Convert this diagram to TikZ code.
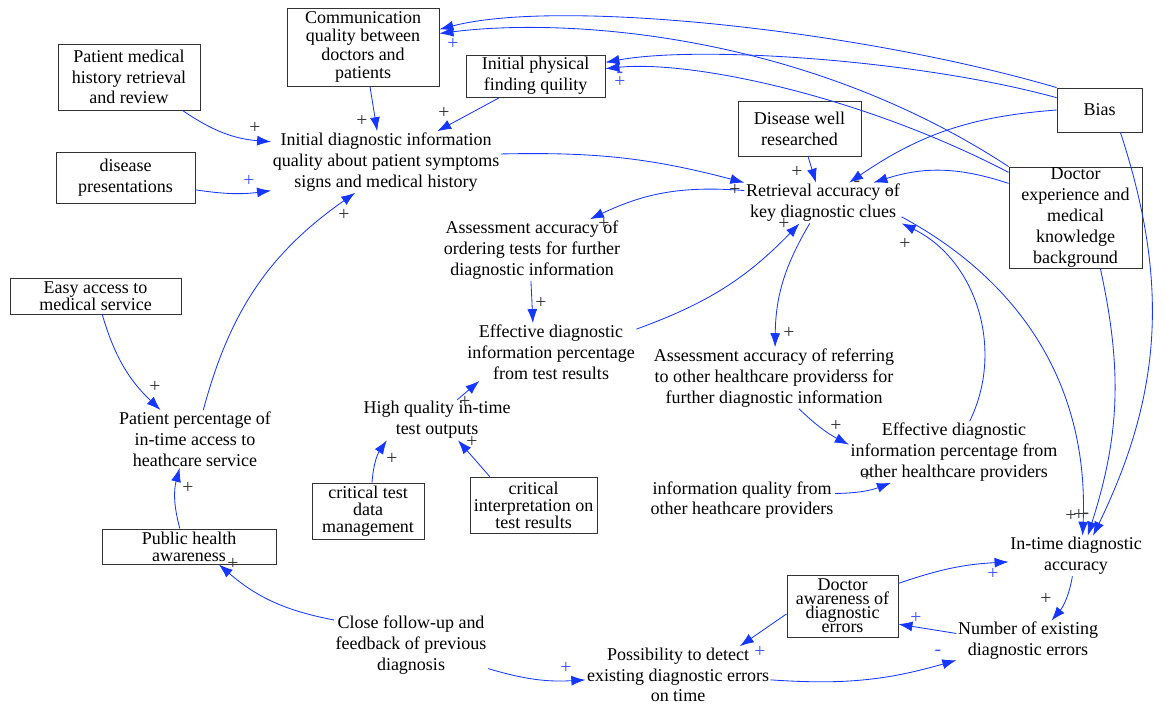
\documentclass[tikz,border=0pt]{standalone}
\usepackage{fontspec}
\setmainfont{Liberation Serif}
\usetikzlibrary{arrows.meta}

\definecolor{linkblue}{RGB}{22,55,255}
\definecolor{signblue}{RGB}{60,80,255}
\definecolor{signgray}{RGB}{50,50,50}
\newcommand{\varfont}{\fontsize{12.8}{14.8}\selectfont}
\newcommand{\boxfont}{\fontsize{12.8}{12.9}\selectfont}
\newcommand{\tightfont}{\fontsize{12.8}{12.1}\selectfont}
\newcommand{\squeezefont}{\fontsize{12.8}{10}\selectfont}
\newcommand{\signfont}{\fontsize{14}{14}\selectfont}

\begin{document}
\begin{tikzpicture}[>={Latex[length=3.5mm,width=2.5mm]}, x=0.025cm, y=0.025cm,
    box/.style={draw=black!80, line width=0.6pt, align=center,
                inner sep=0pt, font=\varfont},
    var/.style={align=center, inner sep=1pt, font=\varfont},
    link/.style={->, draw=linkblue, line width=0.6pt},
    sgn/.style={font=\signfont, text=signgray, inner sep=0pt},
    sgnb/.style={sgn, text=signblue}]
  \useasboundingbox (0,0) rectangle (1165,-704);

  % Boxed variables
  \node[box, font=\boxfont, minimum width=3.8cm, minimum height=1.95cm] (comm) at (363,-47)
    {Communication\\quality between\\doctors and\\patients};
  \node[box, minimum width=3.55cm, minimum height=1.65cm] (history) at (129,-77)
    {Patient medical\\history retrieval\\and review};
  \node[box, minimum width=3.475cm, minimum height=1.275cm] (present) at (125.5,-177.5)
    {disease\\presentations};
  \node[box, minimum width=3.475cm, minimum height=1.05cm] (physical) at (535.5,-76)
    {Initial physical\\finding quility};
  \node[box, minimum width=3.075cm, minimum height=1.375cm] (wellres) at (799.5,-128.5)
    {Disease well\\researched};
  \node[box, minimum width=2.125cm, minimum height=1.1cm] (bias) at (1099.5,-110)
    {Bias};
  \node[box, minimum width=3.325cm, minimum height=2.525cm] (docexp) at (1075.5,-217.5)
    {Doctor\\experience and\\medical\\knowledge\\background};
  \node[box, font=\tightfont, minimum width=4.275cm, minimum height=0.9cm] (access) at (95.5,-296)
    {Easy access to\\medical service};
  \node[box, font=\tightfont, minimum width=2.8cm, minimum height=1.4cm] (testdata) at (368,-511)
    {critical test\\data\\management};
  \node[box, font=\tightfont, minimum width=3.175cm, minimum height=1.4cm] (interp) at (533.5,-505)
    {critical\\interpretation on\\test results};
  \node[box, font=\tightfont, minimum width=4.35cm, minimum height=0.875cm] (awareness) at (189,-546.5)
    {Public health\\awareness};
  \node[box, font=\squeezefont, minimum width=2.775cm, minimum height=1.55cm] (docaware) at (842.5,-606)
    {Doctor\\awareness of\\diagnostic\\errors};

  % Plain variables
  \node[var] (initinfo) at (386,-162)
    {Initial diagnostic information\\quality about patient symptoms\\signs and medical history};
  \node[var] (retrieval) at (823,-203)
    {Retrieval accuracy of\\key diagnostic clues};
  \node[var] (ordertest) at (532,-250)
    {Assessment accuracy of\\ordering tests for further\\diagnostic information};
  \node[var] (testinfo) at (551,-352)
    {Effective diagnostic\\information percentage\\from test results};
  \node[var] (testout) at (437,-420)
    {High quality in-time\\test outputs};
  \node[var] (pataccess) at (195,-439)
    {Patient percentage of\\in-time access to\\heathcare service};
  \node[var] (referral) at (774,-378)
    {Assessment accuracy of referring\\to other healthcare providerss for\\further diagnostic information};
  \node[var] (refinfo) at (954,-452)
    {Effective diagnostic\\information percentage from\\other healthcare providers};
  \node[var] (otherinfo) at (742,-500)
    {information quality from\\other heathcare providers};
  \node[var] (accuracy) at (1076,-556)
    {In-time diagnostic\\accuracy};
  \node[var] (errors) at (1028,-641)
    {Number of existing\\diagnostic errors};
  \node[var] (detect) at (678,-675)
    {Possibility to detect\\existing diagnostic errors\\on time};
  \node[var] (followup) at (411,-645)
    {Close follow-up and\\feedback of previous\\diagnosis};

  % Links into initial information quality
  \draw[link] (history.-32) to[bend right=15] (initinfo.170);
  \draw[link] (present.-10) to[bend right=8] (initinfo.194);
  \draw[link] (comm.-80) -- (initinfo.106);
  \draw[link] (physical.-149) -- (initinfo.31);
  \draw[link] (pataccess.74) to[bend left=20] (initinfo.-135);

  % Long links from bias and experience
  \draw[link] (bias.north west) .. controls (860,-30) and (560,2) .. (comm.13);
  \draw[link] (docexp.north west) .. controls (800,-30) and (560,-18) .. (comm.10);
  \draw[link] (bias.164) .. controls (920,-60) and (700,-45) .. (physical.11);
  \draw[link] (docexp.146) .. controls (860,-95) and (690,-60) .. (physical.6);

  % Retrieval accuracy
  \draw[link] (initinfo.4) to[bend left=8] (retrieval.north west);
  \draw[link] (wellres.-73) -- (retrieval.109);
  \draw[link] (bias.west) to[bend right=15] (retrieval.38);
  \draw[link] (docexp.153) to[bend right=18] (retrieval.22);
  \draw[link] (retrieval.171) to[bend right=15] (ordertest.28);
  \draw[link] (ordertest.-92) -- (testinfo.122);
  \draw[link] (testinfo.15) to[bend right=13] (retrieval.-139);
  \draw[link] (retrieval.-123) to[bend right=15] (referral.88);
  \draw[link] (referral.-51) to[bend right=8] (refinfo.176);
  \draw[link] (refinfo.63) to[bend right=45] (retrieval.south east);
  \draw[link] (otherinfo.4) to[bend right=10] (refinfo.-154);

  % Into in-time accuracy
  \draw[link] (retrieval.-10) to[bend left=32] (accuracy.72);
  \draw[link] (docexp.-64) to[bend left=15] (accuracy.60);
  \draw[link] (bias.-47) to[bend left=22] (accuracy.50);

  % Test outputs
  \draw[link] (testout.45) -- (testinfo.-158);
  \draw[link] (testdata.82) to[bend left=15] (testout.-158);
  \draw[link] (interp.147) -- (testout.-44);

  % Access to care
  \draw[link] (access.-70) to[bend right=15] (pataccess.140);
  \draw[link] (awareness.117) to[bend left=15] (pataccess.-118);

  % Error feedback loop
  \draw[link] (followup.162) to[bend left=15] (awareness.-31);
  \draw[link] (followup.-17) to[bend right=10] (detect.183);
  \draw[link] (detect.-3) to[bend right=10] (errors.-165);
  \draw[link] (errors.174) -- (docaware.-18);
  \draw[link] (docaware.-172) -- (detect.25);
  \draw[link] (docaware.22) to[bend left=8] (accuracy.185);
  \draw[link] (accuracy.-100) to[bend left=15] (errors.41);

  % Link polarities
  \node[sgn]  (s1)  at (255,-128) {+};
  \node[sgnb] (s2)  at (249,-181) {+};
  \node[sgn]  (s3)  at (362,-121) {+};
  \node[sgn]  (s4)  at (444,-113) {+};
  \node[sgn]  (s5)  at (344,-215) {+};
  \node[sgnb] (s6)  at (453,-44) {+};
  \node[sgnb] (s7)  at (620,-82) {+};
  \node[sgnb] (s8)  at (620,-75) {-};
  \node[sgn]  (s9)  at (735,-190) {+};
  \node[sgn]  (s10) at (797,-172) {+};
  \node[sgn]  (s11) at (857,-184) {-};
  \node[sgn]  (s12) at (889,-193) {-};
  \node[sgn]  (s13) at (604,-224) {+};
  \node[sgn]  (s14) at (541,-303) {+};
  \node[sgn]  (s15) at (784,-224) {+};
  \node[sgn]  (s16) at (789,-333) {+};
  \node[sgn]  (s17) at (836,-426) {+};
  \node[sgn]  (s18) at (905,-244) {+};
  \node[sgn]  (s19) at (867,-476) {+};
  \node[sgn]  (s20) at (1071,-516) {+};
  \node[sgn]  (s21) at (1079,-515) {+};
  \node[sgn]  (s22) at (1086,-516) {-};
  \node[sgn]  (s23) at (465,-402) {+};
  \node[sgn]  (s24) at (392,-459) {+};
  \node[sgn]  (s25) at (472,-442) {+};
  \node[sgn]  (s26) at (155,-387) {+};
  \node[sgn]  (s27) at (188,-488) {+};
  \node[sgn]  (s28) at (233,-564) {+};
  \node[sgnb] (s29) at (566,-668) {+};
  \node[sgnb] (s30) at (938,-653) {-};
  \node[sgnb] (s31) at (916,-618) {+};
  \node[sgnb] (s32) at (760,-652) {+};
  \node[sgnb] (s33) at (993,-574) {+};
  \node[sgn]  (s34) at (1046,-599) {+};
\end{tikzpicture}
\end{document}
